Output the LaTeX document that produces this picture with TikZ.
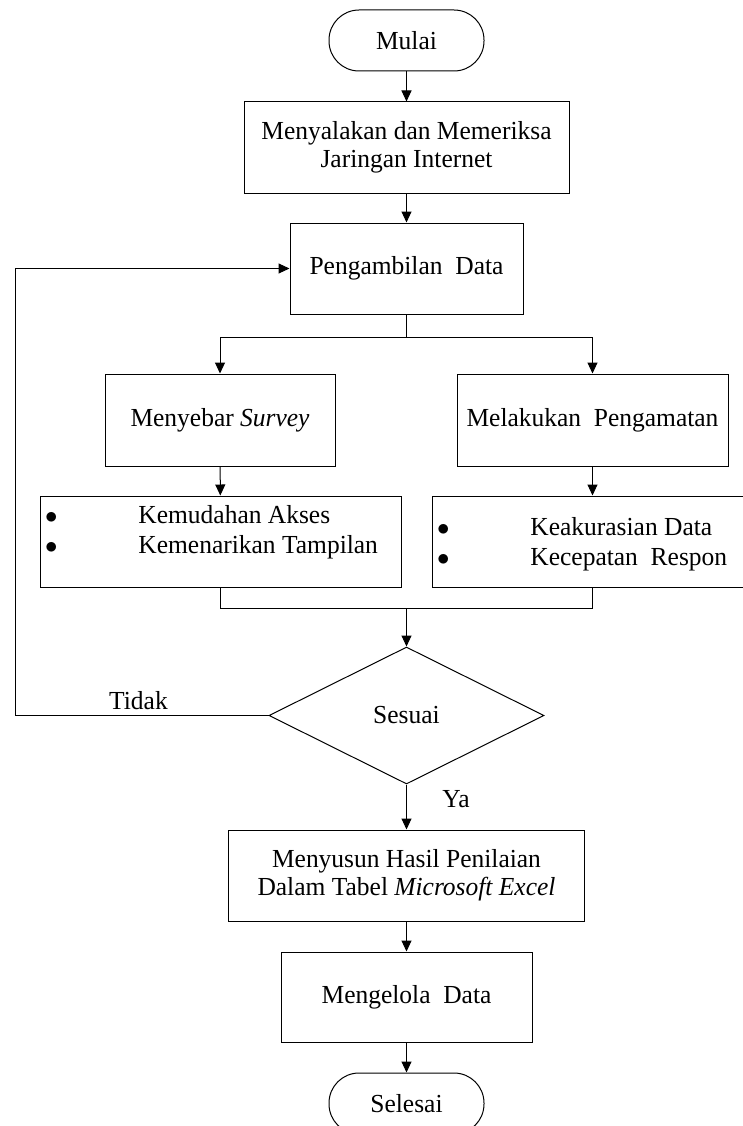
\documentclass[tikz,border=0pt]{standalone}
\usepackage{fontspec}
\setmainfont[FakeStretch=0.98]{Liberation Serif}
\usetikzlibrary{shapes.geometric, arrows.meta}

\begin{document}
\begin{tikzpicture}[x=1pt, y=-1pt, line width=1pt,
    font=\fontsize{26}{28}\selectfont,
    block/.style={rectangle, draw, text centered, align=center, minimum height=91pt},
    terminal/.style={rectangle, draw, rounded corners=30pt, minimum width=155pt, minimum height=61pt},
    decision/.style={diamond, draw, minimum width=275pt, minimum height=137pt, inner sep=0pt},
    list/.style={anchor=west, align=left, inner sep=0pt},
    arrow/.style={-{Triangle[length=11pt, width=10pt]}}]
    \useasboundingbox (0,0) rectangle (742,1126);

    \node[terminal] (mulai) at (406.5,40.5) {Mulai};
    \node[block, minimum width=325pt] (nyala) at (406.5,147.5) {Menyalakan dan Memeriksa\\Jaringan Internet};
    \node[block, minimum width=233pt] (ambil) at (406.5,268.5) {Pengambilan\ \ Data};
    \node[block, minimum width=230pt, minimum height=92pt] (survey) at (220,420) {Menyebar \textit{Survey}};
    \node[block, minimum width=271pt, minimum height=92pt] (amati) at (592.5,420) {Melakukan\ \ Pengamatan};
    \node[block, minimum width=361pt] (hasil1) at (220.5,541.5) {};
    \node[block, minimum width=321pt] (hasil2) at (592.5,541.5) {};
    \node[list] (daftar1) at (44.5,532) {$\bullet$\hspace{81pt}Kemudahan Akses\\[2pt]$\bullet$\hspace{81pt}Kemenarikan Tampilan};
    \node[list] (daftar2) at (436.5,544.5) {$\bullet$\hspace{81pt}Keakurasian Data\\[2pt]$\bullet$\hspace{81pt}Kecepatan\ \ Respon};
    \node[decision] (sesuai) at (406.5,715.5) {Sesuai};
    \node[block, minimum width=356pt] (susun) at (406.5,875.5) {Menyusun Hasil Penilaian\\Dalam Tabel \textit{Microsoft Excel}};
    \node[block, minimum width=251pt, minimum height=90pt] (kelola) at (406.5,997) {Mengelola\ \ Data};
    \node[terminal] (selesai) at (406.5,1103.5) {Selesai};

    \coordinate (pisah) at (406.5,337);
    \coordinate (gabung) at (406.5,608);
    \coordinate (kiri) at (15,715.5);

    \draw[arrow] (mulai) -- (nyala);
    \draw[arrow] (nyala) -- (ambil);
    \draw (ambil) -- (pisah);
    \draw[arrow] (pisah) -| (survey);
    \draw[arrow] (pisah) -| (amati);
    \draw[arrow] (survey) -- (hasil1);
    \draw[arrow] (amati) -- (hasil2);
    \draw (hasil1) |- (gabung);
    \draw (hasil2) |- (gabung);
    \draw[arrow] (gabung) -- (sesuai);
    \draw[arrow] (sesuai.west) -- (kiri) |- (ambil.west);
    \node (tidak) at (138.5,701) {Tidak};
    \draw[arrow] (sesuai) -- (susun);
    \node (ya) at (456,799) {Ya};
    \draw[arrow] (susun) -- (kelola);
    \draw[arrow] (kelola) -- (selesai);
\end{tikzpicture}
\end{document}
